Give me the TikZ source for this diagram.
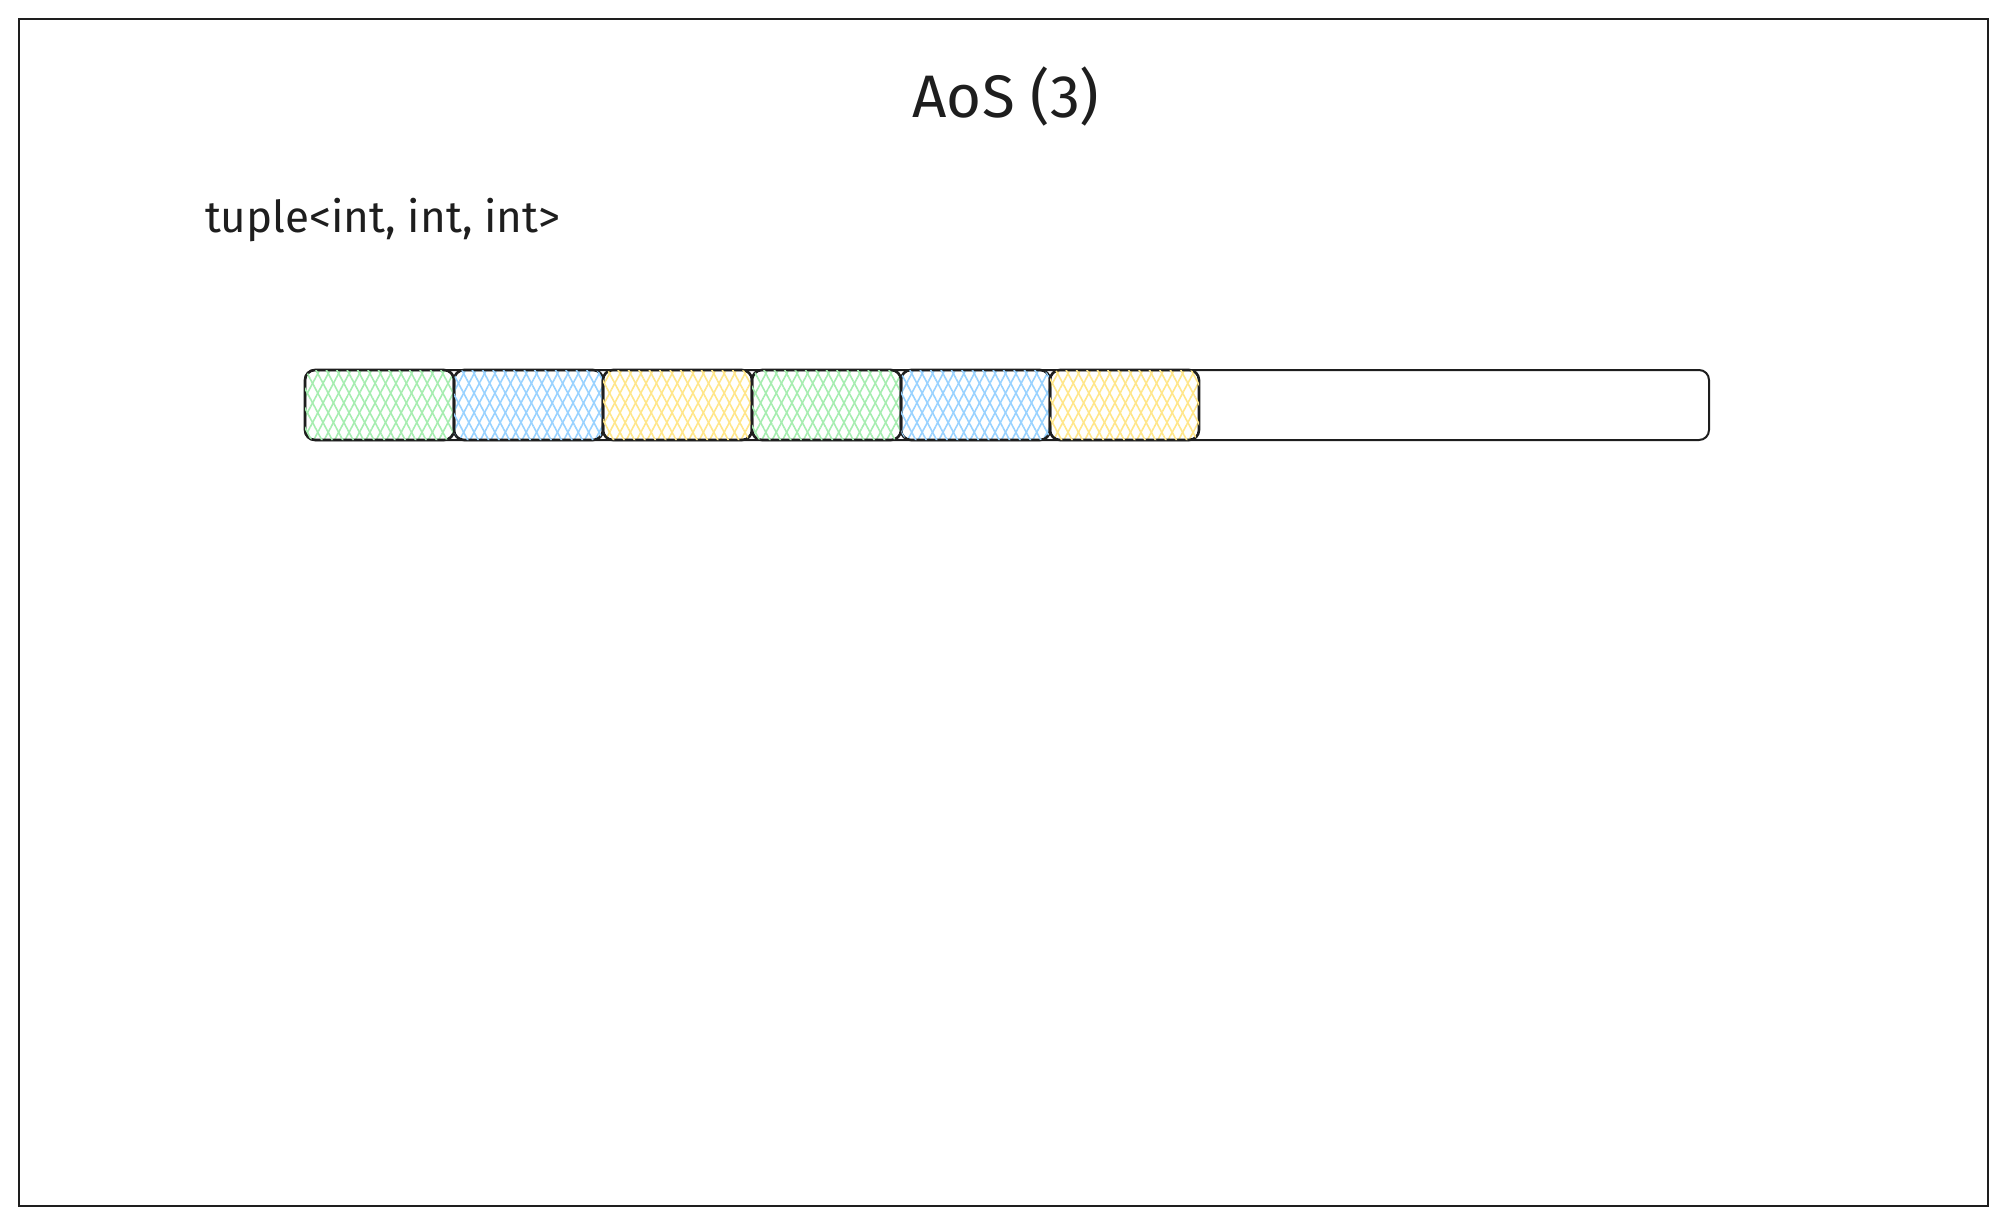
\documentclass[tikz,border=0pt]{standalone}
\usepackage{fontspec}
\setmainfont{Fira Sans}
\usetikzlibrary{patterns.meta}

\definecolor{ink}{HTML}{1E1E1E}
\definecolor{cellgreen}{HTML}{A6EDB0}
\definecolor{cellblue}{HTML}{99D2FF}
\definecolor{cellyellow}{HTML}{FFE68A}

\begin{document}
\begin{tikzpicture}[x=0.5pt, y=-0.5pt,
  cell/.style={draw=ink, line width=1.3pt, rounded corners=5pt, inner sep=0pt,
    minimum width=74.5pt, minimum height=35pt,
    pattern={Lines[angle=62,distance=4.6pt,line width=0.8pt]},
    postaction={pattern={Lines[angle=-62,distance=4.6pt,line width=0.8pt]}}},
  strip/.style={draw=ink, line width=1pt, rounded corners=5pt, inner sep=0pt,
    minimum width=702pt, minimum height=35pt}]
\useasboundingbox (0,0) rectangle (2008,1226);
% Frame
\draw[ink, line width=1pt] (19,19) rectangle (1988,1206);

% Title and type
\node[text=ink, font=\fontsize{30}{34}\selectfont] (title) at (1006,96) {AoS (3)};
\node[text=ink, anchor=west, font=\fontsize{22}{26}\selectfont] (tuple) at (198,220)
{tuple<int, int, int>};

% Memory strip, then the packed fields
\node[strip] (mem) at (1007,405) {};
\node[cell, pattern color=cellgreen] (f1) at (379.5,405) {};
\node[cell, pattern color=cellblue] (f2) at (528.5,405) {};
\node[cell, pattern color=cellyellow] (f3) at (677.5,405) {};
\node[cell, pattern color=cellgreen] (f4) at (826.5,405) {};
\node[cell, pattern color=cellblue] (f5) at (975.5,405) {};
\node[cell, pattern color=cellyellow] (f6) at (1124.5,405) {};
\end{tikzpicture}
\end{document}
